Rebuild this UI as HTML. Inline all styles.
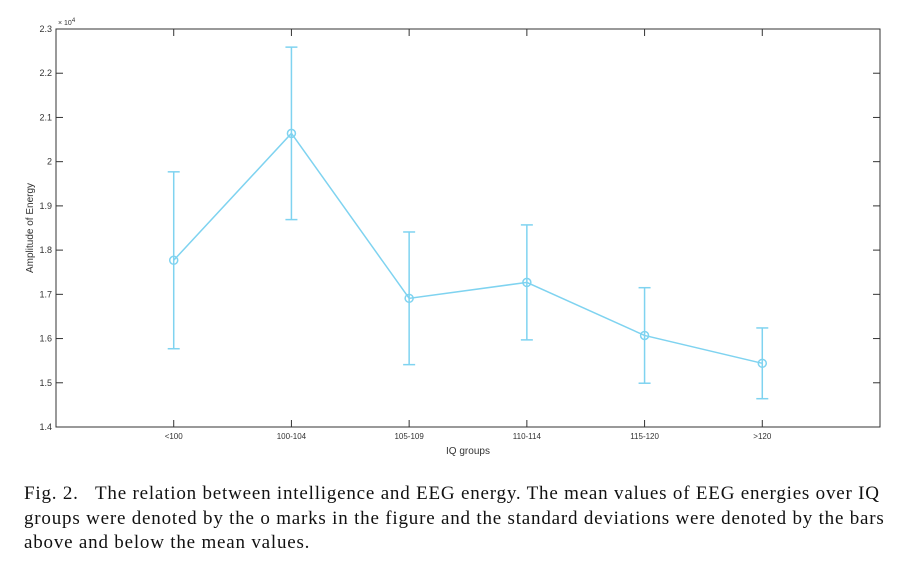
<!DOCTYPE html>
<html><head><meta charset="utf-8"><style>
body{margin:0;background:#fff;width:920px;height:569px;overflow:hidden}
#cap{position:absolute;left:24px;top:482px;white-space:nowrap;font-family:"Liberation Serif",serif;font-size:19px;letter-spacing:0.8px;line-height:24.5px;color:#111}
</style></head><body>
<svg id="chart" width="920" height="470" style="position:absolute;left:0;top:0" font-family="Liberation Sans, sans-serif"></svg>
<div id="cap">Fig. 2.&nbsp;&nbsp; The relation between intelligence and EEG energy. The mean values of EEG energies over IQ<br>groups were denoted by the o marks in the figure and the standard deviations were denoted by the bars<br>above and below the mean values.</div>
<script>
const categories=["<100","100-104","105-109","110-114","115-120",">120"];
const means=[1.777,2.064,1.691,1.727,1.607,1.544];
const stds=[0.2,0.195,0.150,0.130,0.108,0.080];
const yTicks=[1.4,1.5,1.6,1.7,1.8,1.9,2,2.1,2.2,2.3];
const L=56,R=880,T=29,B=427,ymin=1.4,ymax=2.3;
const xs=i=>L+(i+1)*(R-L)/7;
const ys=v=>B-(v-ymin)/(ymax-ymin)*(B-T);
const svg=document.getElementById('chart');
const NS='http://www.w3.org/2000/svg';
function mk(t,a,p){const e=document.createElementNS(NS,t);for(const k in a)e.setAttribute(k,a[k]);(p||svg).appendChild(e);return e;}
const box=mk('rect',{x:L,y:T,width:R-L,height:B-T,fill:'none',stroke:'#333','stroke-width':1});


yTicks.forEach(v=>{const y=ys(v);
mk('line',{x1:L,x2:L+7,y1:y,y2:y,stroke:'#333'});mk('line',{x1:R,x2:R-7,y1:y,y2:y,stroke:'#333'});
const t=mk('text',{x:L-4,y:y+3,'text-anchor':'end','font-size':9,fill:'#333'});t.textContent=String(v);

});
categories.forEach((c,i)=>{const x=xs(i);
mk('line',{x1:x,x2:x,y1:B,y2:B-7,stroke:'#333'});mk('line',{x1:x,x2:x,y1:T,y2:T+7,stroke:'#333'});
const t=mk('text',{x:x,y:B+12,'text-anchor':'middle','font-size':8,fill:'#333'});t.textContent=c;

});
const ex=mk('text',{x:L+2,y:T-4,'font-size':7,fill:'#333'});ex.innerHTML='× 10<tspan dy="-3" font-size="6">4</tspan>';


const xt=mk('text',{x:(L+R)/2,y:B+27,'text-anchor':'middle','font-size':10,fill:'#333'});xt.textContent='IQ groups';


const yt=mk('text',{x:0,y:0,'text-anchor':'middle','font-size':10,fill:'#333',transform:`translate(33,${(T+B)/2}) rotate(-90)`});yt.textContent='Amplitude of Energy';


const col='#7fd3f0';
const line=mk('polyline',{points:means.map((m,i)=>xs(i)+','+ys(m)).join(' '),fill:'none',stroke:col,'stroke-width':1.5});


means.forEach((m,i)=>{const x=xs(i),g=mk('g',{stroke:col,'stroke-width':1.5,fill:'none'});


const u=ys(m+stds[i]),d=ys(m-stds[i]);
mk('line',{x1:x,x2:x,y1:u,y2:d},g);mk('line',{x1:x-6,x2:x+6,y1:u,y2:u},g);mk('line',{x1:x-6,x2:x+6,y1:d,y2:d},g);
const c=mk('circle',{cx:x,cy:ys(m),r:4},g);

});
</script>
</body></html>
